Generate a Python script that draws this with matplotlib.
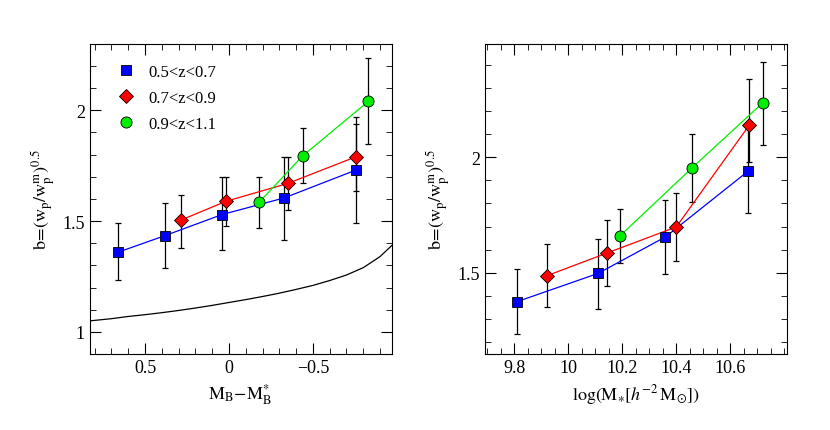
import numpy as np
import matplotlib.pyplot as plt

plt.rcParams['font.family'] = 'Liberation Serif'
plt.rcParams['mathtext.fontset'] = 'stix'

# left panel: M_B - M_B*
mb_blue = [0.66, 0.38, 0.04, -0.33, -0.755]
b_blue = [1.36, 1.435, 1.53, 1.605, 1.73]
lo_blue = [1.235, 1.29, 1.37, 1.415, 1.49]
hi_blue = [1.49, 1.58, 1.70, 1.79, 1.94]

mb_red = [0.285, 0.016, -0.35, -0.755]
b_red = [1.505, 1.59, 1.67, 1.79]
lo_red = [1.38, 1.48, 1.55, 1.635]
hi_red = [1.62, 1.70, 1.79, 1.97]

mb_green = [-0.18, -0.44, -0.83]
b_green = [1.585, 1.795, 2.04]
lo_green = [1.47, 1.67, 1.85]
hi_green = [1.70, 1.92, 2.235]

mb_curve = [0.83, 0.7, 0.6, 0.5, 0.4, 0.3, 0.2, 0.1, 0.0, -0.1, -0.2, -0.3,
            -0.4, -0.5, -0.6, -0.7, -0.8, -0.9, -0.97]
b_curve = [1.05, 1.06, 1.07, 1.078, 1.087, 1.097, 1.108, 1.12, 1.133, 1.146,
           1.16, 1.175, 1.192, 1.21, 1.232, 1.257, 1.29, 1.34, 1.39]

# right panel: log stellar mass
m_blue = [9.81, 10.11, 10.36, 10.665]
bm_blue = [1.375, 1.497, 1.655, 1.938]
lom_blue = [1.234, 1.343, 1.496, 1.76]
him_blue = [1.515, 1.648, 1.816, 2.12]

m_red = [9.92, 10.145, 10.40, 10.67]
bm_red = [1.487, 1.586, 1.698, 2.137]
lom_red = [1.352, 1.444, 1.55, 1.98]
him_red = [1.624, 1.727, 1.846, 2.34]

m_green = [10.19, 10.46, 10.72]
bm_green = [1.658, 1.955, 2.234]
lom_green = [1.54, 1.806, 2.053]
him_green = [1.774, 2.10, 2.41]

labels = ['0.5<z<0.7', '0.7<z<0.9', '0.9<z<1.1']
styles = [('#0000ff', 's', 7), ('#ff0000', 'D', 7), ('#00ee00', 'o', 8)]

fig = plt.figure(figsize=(8.3, 4.31), dpi=100)
ax1 = fig.add_axes([0.108, 0.176, 0.364, 0.72])
ax2 = fig.add_axes([0.584, 0.176, 0.364, 0.72])

def draw(ax, xs, ys, los, his, leg):
    for (x, y, lo, hi), (c, m, s), lab in zip(zip(xs, ys, los, his), styles, labels):
        x, y, lo, hi = map(np.array, (x, y, lo, hi))
        ax.errorbar(x, y, yerr=[y - lo, hi - y], fmt='none', ecolor='black',
                    elinewidth=0.9, capsize=2.5, capthick=0.9, zorder=2)
        ax.plot(x, y, '-', color=c, lw=0.9, zorder=3)
        ax.plot(x, y, m, color=c, ms=s, mec='black', mew=0.6, zorder=4,
                label=lab if leg else None)

draw(ax1, [mb_blue, mb_red, mb_green], [b_blue, b_red, b_green],
     [lo_blue, lo_red, lo_green], [hi_blue, hi_red, hi_green], True)
ax1.plot(mb_curve, b_curve, color='black', lw=0.9)
ax1.set_xlim(0.83, -0.97)
ax1.set_ylim(0.9, 2.3)
ax1.set_xticks([0.5, 0, -0.5])
ax1.set_xticklabels(['0.5', '0', '\u22120.5'])
ax1.set_yticks([1, 1.5, 2])
ax1.set_yticklabels(['1', '1.5', '2'])
ax1.set_xticks(np.arange(-0.9, 0.85, 0.1), minor=True)
ax1.set_yticks(np.arange(0.9, 2.31, 0.1), minor=True)
ax1.set_xlabel(r'$\mathrm{M_B\!-\!M_B^{*}}$', fontsize=13)
ax1.set_ylabel(r'$\mathrm{b\!=\!(w_p/w_p^m)^{0.5}}$', fontsize=13)
ax1.legend(loc='upper left', frameon=False, fontsize=12, handletextpad=0.3,
           borderaxespad=0.8, labelspacing=0.6)

draw(ax2, [m_blue, m_red, m_green], [bm_blue, bm_red, bm_green],
     [lom_blue, lom_red, lom_green], [him_blue, him_red, him_green], False)
ax2.set_xlim(9.69, 10.81)
ax2.set_ylim(1.148, 2.49)
ax2.set_xticks([9.8, 10, 10.2, 10.4, 10.6])
ax2.set_xticklabels(['9.8', '10', '10.2', '10.4', '10.6'])
ax2.set_yticks([1.5, 2])
ax2.set_yticklabels(['1.5', '2'])
ax2.set_xticks(np.arange(9.7, 10.81, 0.05), minor=True)
ax2.set_yticks(np.arange(1.2, 2.45, 0.1), minor=True)
ax2.set_xlabel(r'$\mathrm{log(M_{\ast}[}h^{-2}\,\mathrm{M_{\odot}])}$', fontsize=13)
ax2.set_ylabel(r'$\mathrm{b\!=\!(w_p/w_p^m)^{0.5}}$', fontsize=13)

for ax in (ax1, ax2):
    ax.tick_params(which='both', direction='in', top=True, right=True, labelsize=13)
    ax.tick_params(which='major', length=8)
    ax.tick_params(which='minor', length=4)

fig.savefig('out.png', dpi=100)
